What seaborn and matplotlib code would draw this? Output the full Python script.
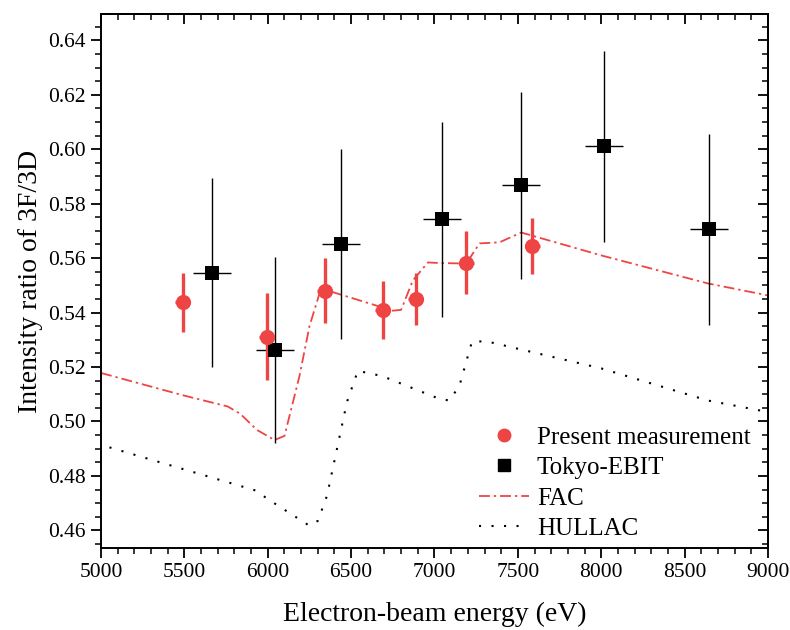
import numpy as np
import pandas as pd
import seaborn as sns
import matplotlib
matplotlib.use("Agg")
import matplotlib.pyplot as plt
from matplotlib.ticker import MultipleLocator
from matplotlib.lines import Line2D

# ---------------- data ----------------
present_energy = [5490, 5995, 6343, 6691, 6889, 7189, 7585]
present_ratio = [0.5437, 0.5312, 0.5480, 0.5410, 0.5450, 0.5583, 0.5646]
present_yerr = [0.011, 0.016, 0.012, 0.0107, 0.0097, 0.0115, 0.0103]
present_xerr = [45, 45, 45, 45, 45, 45, 45]

tokyo_energy = [5666, 6043, 6439, 7045, 7519, 8016, 8646]
tokyo_ratio = [0.5547, 0.5262, 0.5652, 0.5743, 0.5867, 0.6010, 0.5706]
tokyo_yerr = [0.0347, 0.0342, 0.0348, 0.0358, 0.0344, 0.0351, 0.0351]
tokyo_xerr = [115, 112, 112, 114, 112, 112, 112]

fac_energy = [5000, 5480, 5760, 5835, 5935, 6040, 6100, 6190, 6250, 6310,
              6340, 6390, 6750, 6800, 6870, 6960, 7030, 7190, 7270, 7390,
              7520, 8000, 8640, 9000]
fac_ratio = [0.5178, 0.5098, 0.5055, 0.5028, 0.4969, 0.4932, 0.4947, 0.5167,
             0.5350, 0.5470, 0.5480, 0.5475, 0.5407, 0.5410, 0.5518, 0.5584,
             0.5582, 0.5580, 0.5654, 0.5658, 0.5694, 0.5610, 0.5507, 0.5463]

hullac_energy = [5050, 5930, 5995, 6250, 6300, 6355, 6415, 6475, 6540, 6685,
                 7030, 7090, 7150, 7225, 7315, 8000, 8640, 9000]
hullac_ratio = [0.4905, 0.4746, 0.4717, 0.4617, 0.4635, 0.4727, 0.4900, 0.5072,
                0.5186, 0.5167, 0.5083, 0.5077, 0.5132, 0.5294, 0.5294, 0.5195,
                0.5077, 0.5035]

RED = "#EE4444"

# ---------------- style ----------------
sns.set_theme(style="ticks")
plt.rcParams['font.family'] = ['Liberation Serif', 'DejaVu Serif']
plt.rcParams['text.color'] = 'black'
plt.rcParams['axes.labelcolor'] = 'black'
plt.rcParams['xtick.color'] = 'black'
plt.rcParams['ytick.color'] = 'black'

fig = plt.figure(figsize=(7.9, 6.3), dpi=100)
ax = fig.add_axes([0.128, 0.130, 0.844, 0.848])

present_df = pd.DataFrame({"energy": present_energy, "ratio": present_ratio})
tokyo_df = pd.DataFrame({"energy": tokyo_energy, "ratio": tokyo_ratio})
fac_df = pd.DataFrame({"energy": fac_energy, "ratio": fac_ratio})
hullac_df = pd.DataFrame({"energy": hullac_energy, "ratio": hullac_ratio})

fac_ls = (0, (6, 2.2, 1.3, 2.2))
hullac_ls = (0, (1, 5))

# theory curves
sns.lineplot(data=fac_df, x="energy", y="ratio", ax=ax, color=RED, lw=1.3,
             sort=False, estimator=None, linestyle=fac_ls)
sns.lineplot(data=hullac_df, x="energy", y="ratio", ax=ax, color="black", lw=1.5,
             sort=False, estimator=None, linestyle=hullac_ls)

# error bars
ax.errorbar(tokyo_energy, tokyo_ratio, yerr=tokyo_yerr, xerr=tokyo_xerr,
            fmt="none", ecolor="black", elinewidth=1.0, capsize=0, zorder=3)
ax.errorbar(present_energy, present_ratio, yerr=present_yerr, xerr=present_xerr,
            fmt="none", ecolor=RED, elinewidth=2.4, capsize=0, zorder=4)

# markers
sns.scatterplot(data=tokyo_df, x="energy", y="ratio", ax=ax, marker="s",
                color="black", s=95, edgecolor="black", linewidth=0, zorder=5)
sns.scatterplot(data=present_df, x="energy", y="ratio", ax=ax, marker="o",
                color=RED, s=120, edgecolor=RED, linewidth=0, zorder=6)

# axes
ax.set_xlim(5000, 9000)
ax.set_ylim(0.4535, 0.6497)
ax.xaxis.set_major_locator(MultipleLocator(500))
ax.xaxis.set_minor_locator(MultipleLocator(100))
ax.yaxis.set_major_locator(MultipleLocator(0.02))
ax.yaxis.set_minor_locator(MultipleLocator(0.005))
ax.yaxis.set_major_formatter(matplotlib.ticker.FormatStrFormatter('%.2f'))

for s in ax.spines.values():
    s.set_linewidth(1.4)
    s.set_color("black")
    s.set_visible(True)

ax.tick_params(axis="both", which="major", length=7, width=1.3, labelsize=15.5,
               colors="black", direction="out", pad=4)
ax.tick_params(axis="both", which="minor", length=4, width=1.1, direction="out")

# mirrored ticks (inward) on top and right
axt = ax.secondary_xaxis('top')
axt.xaxis.set_major_locator(MultipleLocator(500))
axt.xaxis.set_minor_locator(MultipleLocator(100))
axt.tick_params(axis="x", which="major", direction="in", length=7, width=1.3, labeltop=False)
axt.tick_params(axis="x", which="minor", direction="in", length=4, width=1.1)
axr = ax.secondary_yaxis('right')
axr.yaxis.set_major_locator(MultipleLocator(0.02))
axr.yaxis.set_minor_locator(MultipleLocator(0.005))
axr.tick_params(axis="y", which="major", direction="in", length=7, width=1.3, labelright=False)
axr.tick_params(axis="y", which="minor", direction="in", length=4, width=1.1)
for sa in (axt, axr):
    for s in sa.spines.values():
        s.set_linewidth(1.4)
        s.set_color("black")

ax.set_xlabel("Electron-beam energy (eV)", fontsize=20, labelpad=14, color="black")
ax.set_ylabel("Intensity ratio of 3F/3D", fontsize=20, labelpad=4, color="black")

handles = [
    Line2D([], [], marker="o", color=RED, linestyle="none", markersize=9),
    Line2D([], [], marker="s", color="black", linestyle="none", markersize=8),
    Line2D([], [], color=RED, lw=1.3, linestyle=fac_ls),
    Line2D([], [], color="black", lw=1.5, linestyle=hullac_ls),
]
labels = ["Present measurement", "Tokyo-EBIT", "FAC", "HULLAC"]
leg = ax.legend(handles, labels, loc="lower right", bbox_to_anchor=(1.0, -0.018),
                frameon=False, fontsize=18, handlelength=2.0, handletextpad=0.3,
                labelspacing=0.32, borderaxespad=0.3)
for t in leg.get_texts():
    t.set_color("black")

fig.savefig("out.png", dpi=100)
